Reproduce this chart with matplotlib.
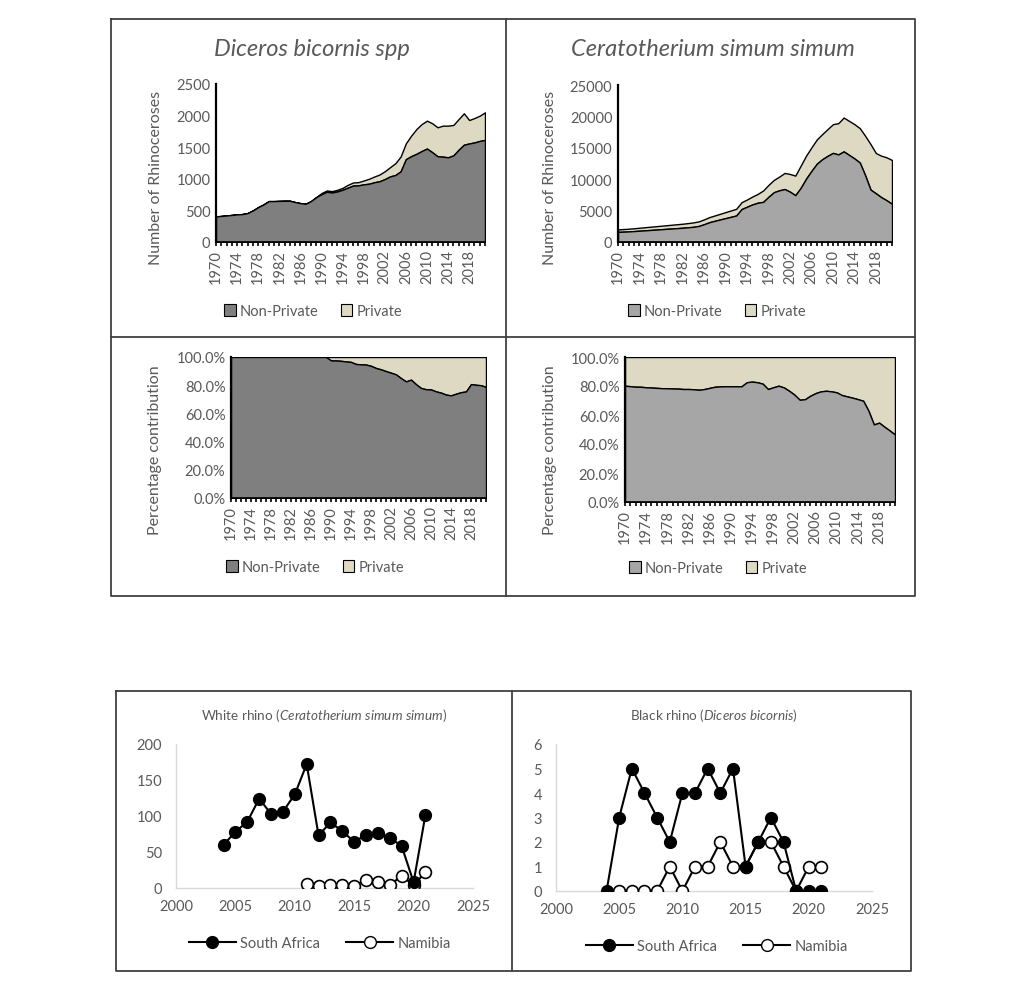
import numpy as np
import matplotlib
matplotlib.use("Agg")
import matplotlib.pyplot as plt
from matplotlib.patches import Patch
from matplotlib.lines import Line2D
from matplotlib.ticker import PercentFormatter

plt.rcParams['font.family'] = ['Lato', 'DejaVu Sans']
plt.rcParams['mathtext.fontset'] = 'custom'
plt.rcParams['mathtext.rm'] = 'Lato'
plt.rcParams['mathtext.it'] = 'Lato:italic'

W, H = 1024, 1003
TXT = '#595959'

# ---- population data (1970-2021) ----
years = list(range(1970, 2022))

black_nonprivate = [405, 412, 420, 428, 437, 442, 458, 500, 552, 594,
                    647, 647, 650, 652, 652, 631, 615, 605, 647, 710,
                    756, 795, 783, 800, 827, 860, 893, 896, 912, 922,
                    945, 961, 995, 1038, 1060, 1118, 1311, 1358, 1395, 1440,
                    1478, 1420, 1356, 1350, 1340, 1370, 1460, 1539, 1559, 1575,
                    1599, 1615]
black_private = [0, 0, 0, 0, 0, 0, 0, 0, 0, 0,
                 0, 0, 0, 0, 0, 0, 0, 0, 0, 0,
                 19, 20, 22, 26, 30, 45, 49, 51, 61, 78,
                 91, 107, 125, 146, 187, 234, 251, 325, 393, 427,
                 442, 458, 459, 491, 501, 482, 486, 497, 371, 387,
                 400, 437]

white_nonprivate = [1610, 1645, 1681, 1740, 1798, 1855, 1913, 1970, 2031, 2090,
                    2149, 2205, 2265, 2340, 2413, 2553, 2829, 3151, 3370, 3585,
                    3796, 4007, 4217, 5238, 5615, 5980, 6253, 6382, 7190, 7926,
                    8225, 8432, 8017, 7452, 8619, 10072, 11312, 12461, 13175, 13710,
                    14184, 13944, 14428, 13870, 13302, 12653, 10621, 8341, 7748, 7132,
                    6644, 6070]
white_private = [398, 415, 433, 450, 475, 495, 518, 540, 559, 580,
                 599, 625, 642, 670, 705, 724, 765, 813, 858, 907,
                 961, 1014, 1068, 1104, 1150, 1260, 1410, 1810, 1900, 1957,
                 2186, 2561, 2817, 3118, 3537, 3669, 3750, 3870, 4002, 4259,
                 4578, 4976, 5391, 5420, 5460, 5475, 6291, 7250, 6416, 6609,
                 6833, 6984]

# ---- poaching data ----
white_sa_years = list(range(2004, 2022))
white_sa = [60, 78, 92, 124, 103, 106, 130, 172, 73, 91, 79, 64, 74, 76, 70, 58, 8, 102]
white_nam_years = list(range(2011, 2022))
white_nam = [6, 3, 4, 4, 3, 11, 8, 4, 17, 4, 22]

black_sa_years = list(range(2004, 2022))
black_sa = [0, 3, 5, 4, 3, 2, 4, 4, 5, 4, 5, 1, 2, 3, 2, 0, 0, 0]
black_nam_years = list(range(2005, 2022))
black_nam = [0, 0, 0, 0, 1, 0, 1, 1, 2, 1, 1, 2, 2, 1, 0, 1, 1]

DARK = '#7f7f7f'
LIGHT = '#a6a6a6'
TAN = '#ddd9c3'

fig = plt.figure(figsize=(W / 100, H / 100), dpi=100)


def px_axes(x0, y0, x1, y1):
    return fig.add_axes([x0 / W, 1 - y1 / H, (x1 - x0) / W, (y1 - y0) / H])


def fig_line(xs, ys, lw=1.3, color='#404040'):
    fig.add_artist(Line2D([x / W for x in xs], [1 - y / H for y in ys],
                          lw=lw, color=color, transform=fig.transFigure))


def area_chart(ax, nonpriv, priv, np_color, percent=False):
    x = np.array(years)
    a = np.array(nonpriv, dtype=float)
    b = np.array(priv, dtype=float)
    if percent:
        tot = a + b
        a, b = a / tot, b / tot
    ax.fill_between(x, 0, a, facecolor=np_color, edgecolor='black', lw=1.0, zorder=2)
    ax.fill_between(x, a, a + b, facecolor=TAN, edgecolor='black', lw=1.0, zorder=1)
    ax.set_xlim(years[0], years[-1])
    ax.set_xticks(years)
    ax.set_xticklabels([str(y) if (y - 1970) % 4 == 0 else '' for y in years],
                       rotation=90, color=TXT, fontsize=10.5)
    ax.tick_params(axis='x', length=3, width=1.2, color='black', pad=2)
    ax.tick_params(axis='y', length=0, labelcolor=TXT, labelsize=10.5, pad=4)
    for s in ['top', 'right']:
        ax.spines[s].set_visible(False)
    ax.spines['left'].set_linewidth(1.6)
    ax.spines['bottom'].set_linewidth(1.2)
    ax.set_facecolor('none')


def area_legend(cx, cy, np_color):
    handles = [Patch(facecolor=np_color, edgecolor='black', lw=0.8),
               Patch(facecolor=TAN, edgecolor='black', lw=0.8)]
    fig.legend(handles, ['Non-Private', 'Private'], loc='center',
               bbox_to_anchor=(cx / W, 1 - cy / H), ncol=2, frameon=False,
               fontsize=10.5, labelcolor=TXT, handlelength=0.8, handleheight=0.8,
               handletextpad=0.3, columnspacing=1.5)


# ---- top row: counts ----
ax1 = px_axes(216, 85, 485, 243)
area_chart(ax1, black_nonprivate, black_private, DARK)
ax1.set_ylim(0, 2500)
ax1.set_yticks(range(0, 2501, 500))

ax2 = px_axes(618, 86, 892, 243)
area_chart(ax2, white_nonprivate, white_private, LIGHT)
ax2.set_ylim(0, 25000)
ax2.set_yticks(range(0, 25001, 5000))

fig.text(312 / W, 1 - 49 / H, 'Diceros bicornis spp', style='italic',
         fontsize=17, color=TXT, ha='center', va='center')
fig.text(713 / W, 1 - 49 / H, 'Ceratotherium simum simum', style='italic',
         fontsize=17, color=TXT, ha='center', va='center')
fig.text(156 / W, 1 - 178 / H, 'Number of Rhinoceroses', rotation=90,
         fontsize=11.5, color=TXT, ha='center', va='center')
fig.text(550 / W, 1 - 178 / H, 'Number of Rhinoceroses', rotation=90,
         fontsize=11.5, color=TXT, ha='center', va='center')
area_legend(313, 312, DARK)
area_legend(717, 312, LIGHT)

# ---- middle row: percentage ----
ax3 = px_axes(231, 358, 486, 499)
area_chart(ax3, black_nonprivate, black_private, DARK, percent=True)
ax3.set_ylim(0, 1)
ax3.set_yticks(np.linspace(0, 1, 6))
ax3.yaxis.set_major_formatter(PercentFormatter(1, decimals=1))

ax4 = px_axes(625, 358, 895, 503)
area_chart(ax4, white_nonprivate, white_private, LIGHT, percent=True)
ax4.set_ylim(0, 1)
ax4.set_yticks(np.linspace(0, 1, 6))
ax4.yaxis.set_major_formatter(PercentFormatter(1, decimals=1))

fig.text(155 / W, 1 - 450 / H, 'Percentage contribution', rotation=90,
         fontsize=11.5, color=TXT, ha='center', va='center')
fig.text(550 / W, 1 - 450 / H, 'Percentage contribution', rotation=90,
         fontsize=11.5, color=TXT, ha='center', va='center')
area_legend(315, 568, DARK)
area_legend(718, 569, LIGHT)

# frame of the top panel
fig_line([111, 915, 915, 111, 111], [20, 20, 597, 597, 20])
fig_line([506, 506], [20, 597])
fig_line([111, 915], [338, 338])


# ---- bottom row: poaching ----
def poach_chart(ax, sa_x, sa_y, nam_x, nam_y):
    ax.plot(nam_x, nam_y, '-o', color='black', lw=1.5, ms=8.5,
            mfc='white', mec='black', mew=1.2, zorder=3, label='Namibia')
    ax.plot(sa_x, sa_y, '-o', color='black', lw=1.5, ms=8.5,
            mfc='black', mec='black', zorder=4, label='South Africa')
    ax.set_xlim(2000, 2025)
    ax.set_xticks(range(2000, 2026, 5))
    for s in ['top', 'right']:
        ax.spines[s].set_visible(False)
    for s in ['left', 'bottom']:
        ax.spines[s].set_color('#d9d9d9')
        ax.spines[s].set_linewidth(1.0)
    ax.tick_params(length=0, labelcolor=TXT, labelsize=10.5)
    ax.tick_params(axis='x', pad=8)
    ax.tick_params(axis='y', pad=10)
    ax.set_facecolor('none')


def poach_legend(cx, cy):
    handles = [Line2D([], [], color='black', lw=1.5, marker='o', ms=8.5,
                      mfc='black', mec='black'),
               Line2D([], [], color='black', lw=1.5, marker='o', ms=8.5,
                      mfc='white', mec='black')]
    fig.legend(handles, ['South Africa', 'Namibia'], loc='center',
               bbox_to_anchor=(cx / W, 1 - cy / H), ncol=2, frameon=False,
               fontsize=10.5, labelcolor=TXT, handlelength=3.2,
               handletextpad=0.3, columnspacing=1.8)


ax5 = px_axes(176, 745, 473, 889)
poach_chart(ax5, white_sa_years, white_sa, white_nam_years, white_nam)
ax5.set_ylim(0, 200)
ax5.set_yticks(range(0, 201, 50))
ax5.set_title('White rhino ($\\it{Ceratotherium\\ simum\\ simum}$)',
              fontsize=9.7, color=TXT, pad=0, y=(889 - 716) / (889 - 745),
              va='center')
poach_legend(320, 944)

ax6 = px_axes(556, 745, 872, 892)
poach_chart(ax6, black_sa_years, black_sa, black_nam_years, black_nam)
ax6.set_ylim(0, 6)
ax6.set_yticks(range(0, 7))
ax6.set_title('Black rhino ($\\it{Diceros\\ bicornis}$)',
              fontsize=9.7, color=TXT, pad=0, y=(892 - 716) / (892 - 745),
              va='center')
poach_legend(717, 947)

fig_line([116, 911, 911, 116, 116], [692, 692, 972, 972, 692])
fig_line([512, 512], [692, 972])

fig.savefig('out.png', dpi=100)
